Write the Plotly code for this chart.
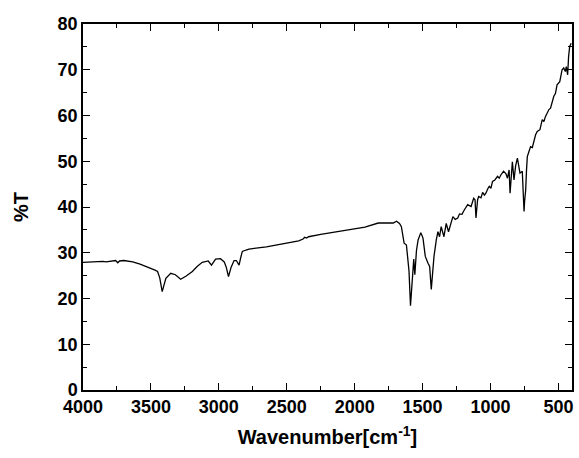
import plotly.graph_objects as go

# FT-IR spectrum: wavenumber (cm^-1) and percent transmittance
wavenumber = [
    4000, 3950, 3900, 3854, 3830, 3800, 3760, 3744, 3731, 3700,
    3670, 3634, 3580, 3512, 3470, 3451, 3435, 3417, 3405, 3390,
    3354, 3320, 3281, 3240, 3195, 3160, 3122, 3078, 3054, 3040,
    3024, 2988, 2960, 2945, 2929, 2910, 2888, 2871, 2851, 2840,
    2827, 2800, 2778, 2650, 2534, 2412, 2380, 2368, 2355, 2339,
    2250, 2168, 2050, 1924, 1826, 1753, 1716, 1692, 1670, 1656,
    1636, 1619, 1600, 1589, 1578, 1565, 1557, 1545, 1533, 1513,
    1497, 1480, 1460, 1448, 1436, 1416, 1399, 1387, 1375, 1363,
    1343, 1326, 1309, 1290, 1277, 1260, 1241, 1228, 1210, 1192,
    1168, 1143, 1124, 1114, 1107, 1095, 1087, 1070, 1058, 1045,
    1034, 1020, 1009, 997, 985, 968, 948, 936, 924, 904,
    887, 875, 863, 856, 847, 839, 827, 815, 802, 783,
    766, 758, 753, 749, 741, 735, 729, 715, 705, 692,
    680, 668, 656, 636, 619, 607, 595, 582, 570, 558,
    546, 534, 522, 510, 490, 473, 461, 449, 442, 432,
    425, 417, 406,
]
transmittance = [
    27.9, 28.0, 28.1, 28.1, 28.0, 28.2, 28.3, 27.8, 28.2, 28.3,
    28.2, 28.0, 27.5, 26.8, 26.2, 25.9, 24.5, 21.5, 23.0, 24.4,
    25.5, 25.2, 24.2, 24.9, 25.9, 27.0, 27.9, 28.2, 27.3, 28.0,
    28.6, 28.7, 28.0, 26.8, 24.8, 26.8, 28.3, 28.3, 27.3, 28.8,
    30.3, 30.6, 30.8, 31.3, 31.9, 32.6, 33.0, 33.4, 33.2, 33.5,
    34.0, 34.4, 35.0, 35.6, 36.5, 36.6, 36.5, 36.9, 36.4, 35.7,
    32.1, 31.7, 26.0, 18.4, 23.5, 28.6, 25.2, 30.5, 32.8, 34.4,
    33.2, 29.2, 27.7, 27.0, 22.0, 29.2, 32.8, 34.6, 33.5, 35.7,
    33.5, 36.4, 34.6, 36.8, 37.9, 37.3, 37.6, 38.5, 38.4, 39.4,
    40.5, 40.1, 41.9, 41.6, 37.6, 41.6, 42.3, 42.0, 43.2, 42.6,
    43.0, 44.0, 44.5, 44.1, 45.6, 45.9, 46.7, 46.3, 47.0, 47.8,
    47.3, 46.3, 48.1, 43.0, 47.5, 49.9, 45.9, 49.0, 50.7, 47.4,
    47.8, 44.0, 39.0, 41.2, 43.7, 48.0, 51.0, 52.3, 53.2, 53.0,
    54.5, 55.8, 56.5, 56.9, 59.1, 58.7, 59.8, 60.6, 61.3, 61.6,
    62.9, 64.2, 64.8, 66.7, 67.4, 70.0, 70.4, 69.6, 70.7, 68.9,
    72.9, 75.1, 75.8,
]

x_ticks = [4000, 3500, 3000, 2500, 2000, 1500, 1000, 500]
y_ticks = [0, 10, 20, 30, 40, 50, 60, 70, 80]

FONT = "Liberation Sans, Arial, sans-serif"

fig = go.Figure(
    go.Scatter(
        x=wavenumber,
        y=transmittance,
        mode="lines",
        line=dict(color="black", width=1.3),
        hoverinfo="skip",
    )
)

axis_common = dict(
    showline=True,
    linecolor="black",
    linewidth=1.5,
    mirror="ticks",
    ticks="inside",
    ticklen=7,
    tickwidth=1.2,
    tickcolor="black",
    showgrid=False,
    zeroline=False,
    tickfont=dict(family=FONT, size=18, color="black", weight="bold"),
)

fig.update_xaxes(
    range=[4000, 400],
    tickvals=x_ticks,
    ticktext=[str(v) for v in x_ticks],
    minor=dict(ticks="inside", ticklen=4, tickwidth=1.2, tickcolor="black", dtick=250, tick0=0),
    title=dict(
        text="Wavenumber[cm<sup>-1</sup>]",
        font=dict(family=FONT, size=20, color="black", weight="bold"),
        standoff=14,
    ),
    **axis_common,
)
fig.update_yaxes(
    range=[0, 80],
    tickvals=y_ticks,
    ticktext=[str(v) for v in y_ticks],
    minor=dict(ticks="inside", ticklen=4, tickwidth=1.2, tickcolor="black", dtick=5, tick0=0),
    title=dict(
        text="%T",
        font=dict(family=FONT, size=20, color="black", weight="bold"),
        standoff=24,
    ),
    **axis_common,
)

fig.update_layout(
    width=579,
    height=458,
    margin=dict(l=83, r=5, t=24, b=68),
    paper_bgcolor="white",
    plot_bgcolor="white",
    showlegend=False,
)

fig.write_html("out.html")
